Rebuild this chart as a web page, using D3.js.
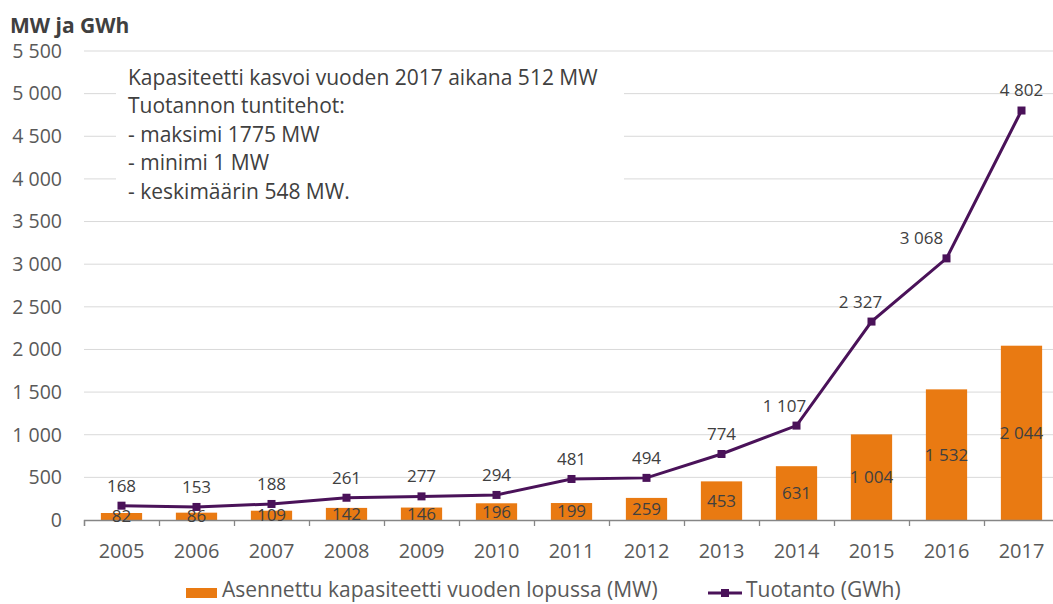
<!DOCTYPE html>
<html>
<head>
<meta charset="utf-8">
<script src="https://cdn.jsdelivr.net/npm/d3@7"></script>
<style>
  body { margin: 0; background: #fff; }
  svg { font-family: "Open Sans", sans-serif; }
</style>
</head>
<body>
<svg width="1053" height="604"></svg>
<script>
// data
const years = ['2005', '2006', '2007', '2008', '2009', '2010', '2011', '2012', '2013', '2014', '2015', '2016', '2017'];
const capacity = [82, 86, 109, 142, 146, 196, 199, 259, 453, 631, 1004, 1532, 2044];
const production = [168, 153, 188, 261, 277, 294, 481, 494, 774, 1107, 2327, 3068, 4802];
const yTicks = [0, 500, 1000, 1500, 2000, 2500, 3000, 3500, 4000, 4500, 5000, 5500];
const noteLines = [
  'Kapasiteetti kasvoi vuoden 2017 aikana 512 MW',
  'Tuotannon tuntitehot:',
  '- maksimi 1775 MW',
  '- minimi 1 MW',
  '- keskimäärin 548 MW.'
];

const orange = '#E97A12';
const purple = '#4A1259';
const textGrey = '#595959';

const fi = d3.formatLocale({ decimal: ',', thousands: '\u00a0', grouping: [3], currency: ['', ''] });
const fmt = fi.format(',d');

const svg = d3.select('svg');

const x = d3.scaleBand().domain(years).range([84, 1059]).paddingInner(0.45).paddingOuter(0.225);
const y = d3.scaleLinear().domain([0, 5500]).range([520, 51]);

// gridlines
svg.append('g')
  .selectAll('line')
  .data(yTicks.filter(d => d > 0))
  .enter().append('line')
  .attr('x1', 84).attr('x2', 1053)
  .attr('y1', d => y(d)).attr('y2', d => y(d))
  .attr('stroke', '#d9d9d9').attr('stroke-width', 1);

// y tick labels
svg.append('g')
  .selectAll('text')
  .data(yTicks)
  .enter().append('text')
  .attr('x', 62)
  .attr('y', d => y(d))
  .attr('dy', '0.35em')
  .attr('text-anchor', 'end')
  .attr('font-size', 19.5)
  .attr('fill', textGrey)
  .text(d => fmt(d));

svg.append('text')
  .attr('x', 10).attr('y', 33)
  .attr('font-size', 21).attr('font-weight', 'bold')
  .attr('fill', '#404040')
  .text('MW ja GWh');

// annotation box covers the gridlines
svg.append('rect')
  .attr('x', 116).attr('y', 60).attr('width', 508).attr('height', 150)
  .attr('fill', '#fff');

svg.append('g')
  .selectAll('text')
  .data(noteLines)
  .enter().append('text')
  .attr('x', 128)
  .attr('y', (d, i) => 85 + i * 28.4)
  .attr('font-size', 21)
  .attr('fill', '#404040')
  .text(d => d);

// bars
svg.append('g')
  .selectAll('rect')
  .data(capacity)
  .enter().append('rect')
  .attr('x', (d, i) => x(years[i]))
  .attr('width', x.bandwidth())
  .attr('y', d => y(d))
  .attr('height', d => y(0) - y(d))
  .attr('fill', orange);

// x axis
const xAxis = d3.axisBottom(d3.scaleLinear().domain([0, 13]).range([84, 1059]))
  .tickValues(d3.range(0, 14))
  .tickSize(6)
  .tickFormat('');
const gx = svg.append('g').attr('transform', 'translate(0,520)').call(xAxis);
gx.select('.domain').attr('stroke', '#868686').attr('stroke-width', 1.3);
gx.selectAll('.tick line').attr('stroke', '#868686').attr('stroke-width', 1.3);

svg.append('g')
  .selectAll('text')
  .data(years)
  .enter().append('text')
  .attr('x', d => x(d) + x.bandwidth() / 2)
  .attr('y', 558)
  .attr('text-anchor', 'middle')
  .attr('font-size', 20)
  .attr('fill', textGrey)
  .text(d => d);

// bar labels, centred in bar
svg.append('g')
  .selectAll('text')
  .data(capacity)
  .enter().append('text')
  .attr('x', (d, i) => x(years[i]) + x.bandwidth() / 2)
  .attr('y', d => (y(d) + y(0)) / 2)
  .attr('dy', '0.35em')
  .attr('text-anchor', 'middle')
  .attr('font-size', 17)
  .attr('fill', '#404040')
  .text(d => fmt(d));

// production line
const cx = (d, i) => x(years[i]) + x.bandwidth() / 2;
const line = d3.line().x(cx).y(d => y(d));

svg.append('path')
  .datum(production)
  .attr('d', line)
  .attr('fill', 'none')
  .attr('stroke', purple)
  .attr('stroke-width', 3);

svg.append('g')
  .selectAll('rect')
  .data(production)
  .enter().append('rect')
  .attr('x', (d, i) => cx(d, i) - 4)
  .attr('y', d => y(d) - 4)
  .attr('width', 8).attr('height', 8)
  .attr('fill', purple);

// labels that were moved off the line in the original
const labelShift = { '2014': -12, '2015': -11, '2016': -25 };

svg.append('g')
  .selectAll('text')
  .data(production)
  .enter().append('text')
  .attr('x', (d, i) => cx(d, i) + (labelShift[years[i]] || 0))
  .attr('y', d => y(d) - 20)
  .attr('dy', '0.35em')
  .attr('text-anchor', 'middle')
  .attr('font-size', 17)
  .attr('fill', '#404040')
  .text(d => fmt(d));

// legend
const legend = svg.append('g').attr('font-size', 21).attr('fill', textGrey);
legend.append('rect')
  .attr('x', 186).attr('y', 588).attr('width', 31).attr('height', 10)
  .attr('fill', orange);
legend.append('text').attr('x', 222).attr('y', 597).text('Asennettu kapasiteetti vuoden lopussa (MW)');
legend.append('line')
  .attr('x1', 708).attr('x2', 742).attr('y1', 593).attr('y2', 593)
  .attr('stroke', purple).attr('stroke-width', 3);
legend.append('rect')
  .attr('x', 721).attr('y', 589).attr('width', 8).attr('height', 8)
  .attr('fill', purple);
legend.append('text').attr('x', 746).attr('y', 597).text('Tuotanto (GWh)');
</script>
</body>
</html>
